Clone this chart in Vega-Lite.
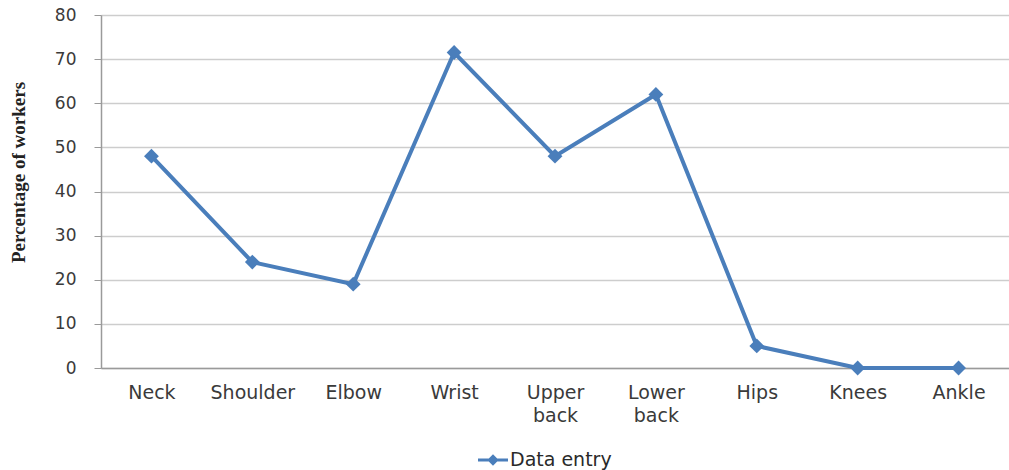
{
  "$schema": "https://vega.github.io/schema/vega-lite/v6.json",
  "width": 908,
  "height": 353,
  "autosize": "none",
  "padding": {"left": 101, "top": 15, "right": 0, "bottom": 102},
  "background": "white",
  "data": {
    "values": [
      {"part": "Neck", "pct": 48, "series": "Data entry"},
      {"part": "Shoulder", "pct": 24, "series": "Data entry"},
      {"part": "Elbow", "pct": 19, "series": "Data entry"},
      {"part": "Wrist", "pct": 71.5, "series": "Data entry"},
      {"part": "Upper back", "pct": 48, "series": "Data entry"},
      {"part": "Lower back", "pct": 62, "series": "Data entry"},
      {"part": "Hips", "pct": 5, "series": "Data entry"},
      {"part": "Knees", "pct": 0, "series": "Data entry"},
      {"part": "Ankle", "pct": 0, "series": "Data entry"}
    ]
  },
  "mark": {
    "type": "line",
    "strokeWidth": 4,
    "clip": false,
    "point": {"shape": "diamond", "size": 220, "filled": true}
  },
  "encoding": {
    "x": {
      "field": "part",
      "type": "nominal",
      "sort": null,
      "scale": {"padding": 0.5},
      "axis": {
        "title": null,
        "labelAngle": 0,
        "labelExpr": "split(datum.label, ' ')",
        "labelFont": "DejaVu Sans",
        "labelFontSize": 19,
        "labelColor": "#3a3a3a",
        "labelLineHeight": 23,
        "labelPadding": 15,
        "ticks": false,
        "grid": false,
        "domainColor": "#9a9a9a",
        "domainWidth": 1.5
      }
    },
    "y": {
      "field": "pct",
      "type": "quantitative",
      "scale": {"domain": [0, 80], "nice": false},
      "axis": {
        "values": [0, 10, 20, 30, 40, 50, 60, 70, 80],
        "title": "Percentage of workers",
        "titleFont": "Liberation Serif",
        "titleFontSize": 19,
        "titleFontWeight": "bold",
        "titleColor": "#222222",
        "titleAngle": -90,
        "titleAlign": "center",
        "titleBaseline": "middle",
        "titleX": -83,
        "titleY": 157,
        "labelFont": "DejaVu Sans",
        "labelFontSize": 17,
        "labelColor": "#3a3a3a",
        "labelPadding": 18,
        "tickSize": 7,
        "tickColor": "#9a9a9a",
        "domainColor": "#9a9a9a",
        "domainWidth": 1.5,
        "gridColor": "#cdcdcd",
        "gridWidth": 1.5
      }
    },
    "color": {
      "field": "series",
      "type": "nominal",
      "scale": {"range": ["#4a7ebb"]},
      "legend": {
        "title": null,
        "orient": "none",
        "legendX": 377,
        "legendY": 430,
        "symbolType": "M-1,-0.1H1V0.1H-1Z M0,-0.38L0.38,0L0,0.38L-0.38,0Z",
        "symbolSize": 900,
        "symbolFillColor": "#4a7ebb",
        "symbolStrokeWidth": 0,
        "labelFont": "DejaVu Sans",
        "labelFontSize": 19,
        "labelColor": "#2a2a2a",
        "labelOffset": 2
      }
    }
  }
}
